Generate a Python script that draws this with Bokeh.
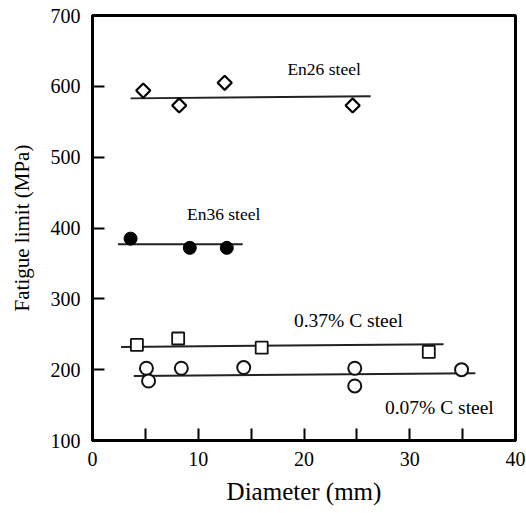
import math
from bokeh.plotting import figure
from bokeh.models import FixedTicker
from bokeh.core.properties import value
from bokeh.embed import file_html
from bokeh.resources import INLINE

# ---- data ----
en26_d = [4.8, 8.2, 12.5, 24.6]
en26_s = [594, 573, 605, 573]
en26_fit_d = [3.6, 26.3]
en26_fit_s = [583, 586]

en36_d = [3.6, 9.2, 12.7]
en36_s = [385, 372, 372]
en36_fit_d = [2.4, 14.2]
en36_fit_s = [377, 377]

c037_d = [4.2, 8.1, 16.0, 31.8]
c037_s = [235, 244, 231, 225]
c037_fit_d = [2.7, 33.2]
c037_fit_s = [232, 236]

c007_d = [5.1, 5.3, 8.4, 14.3, 24.8, 24.8, 34.9]
c007_s = [202, 184, 202, 203, 202, 177, 200]
c007_fit_d = [3.9, 36.2]
c007_fit_s = [191, 195]

en_labels = ["En26 steel", "En36 steel"]
en_label_d = [21.9, 12.4]
en_label_s = [624, 420]
c_labels = ["0.37% C steel", "0.07% C steel"]
c_label_d = [24.2, 32.8]
c_label_s = [269, 147]

x_ticks = [0, 5, 10, 15, 20, 25, 30, 35, 40]
y_ticks = [100, 200, 300, 400, 500, 600, 700]

FONT = "Liberation Serif"

p = figure(width=526, height=513, x_range=(0, 40), y_range=(100, 700),
           output_backend="svg", toolbar_location=None,
           min_border_left=92, min_border_right=11,
           min_border_top=15, min_border_bottom=73)
p.grid.visible = False
p.outline_line_color = "black"
p.outline_line_width = 3
p.background_fill_color = "white"
p.border_fill_color = "white"

for ax in (p.xaxis[0], p.yaxis[0]):
    ax.axis_line_width = 3
    ax.axis_line_color = "black"
    ax.major_tick_in = 12
    ax.major_tick_out = 0
    ax.major_tick_line_width = 2
    ax.minor_tick_line_color = None
    ax.major_label_text_font = FONT
    ax.major_label_text_font_size = "20px"
    ax.major_label_text_color = "black"
    ax.axis_label_text_font = FONT
    ax.axis_label_text_font_style = "normal"
    ax.axis_label_text_color = "black"

p.xaxis.ticker = FixedTicker(ticks=x_ticks)
p.xaxis.major_label_overrides = {t: "" for t in x_ticks if t % 10 != 0}
p.xaxis.major_label_standoff = 11
p.xaxis.axis_label = "Diameter (mm)"
p.xaxis.axis_label_text_font_size = "25px"
p.xaxis.axis_label_standoff = 9

p.yaxis.ticker = FixedTicker(ticks=y_ticks)
p.yaxis.major_label_standoff = 12
p.yaxis.axis_label = "Fatigue limit (MPa)"
p.yaxis.axis_label_text_font_size = "21px"
p.yaxis.axis_label_standoff = 14

LC = "#222222"
for fd, fs in [(en26_fit_d, en26_fit_s), (en36_fit_d, en36_fit_s),
               (c037_fit_d, c037_fit_s), (c007_fit_d, c007_fit_s)]:
    p.line(fd, fs, line_color=LC, line_width=2)

p.scatter(en26_d, en26_s, marker="square", angle=math.pi / 4, size=10,
          fill_color="white", line_color="black", line_width=2.2)
p.scatter(en36_d, en36_s, marker="circle", size=13,
          fill_color="black", line_color="black", line_width=1)
p.scatter(c037_d, c037_s, marker="square", size=12,
          fill_color="white", line_color="#111111", line_width=1.8)
p.scatter(c007_d, c007_s, marker="circle", size=13,
          fill_color="white", line_color="#111111", line_width=2)

p.text(en_label_d, en_label_s, text=en_labels, text_font=value(FONT),
       text_font_size="17.5px", text_align="center", text_baseline="middle",
       text_color="black")
p.text(c_label_d, c_label_s, text=c_labels, text_font=value(FONT),
       text_font_size="19.5px", text_align="center", text_baseline="middle",
       text_color="black")

open("out.html", "w").write(file_html(p, INLINE))
